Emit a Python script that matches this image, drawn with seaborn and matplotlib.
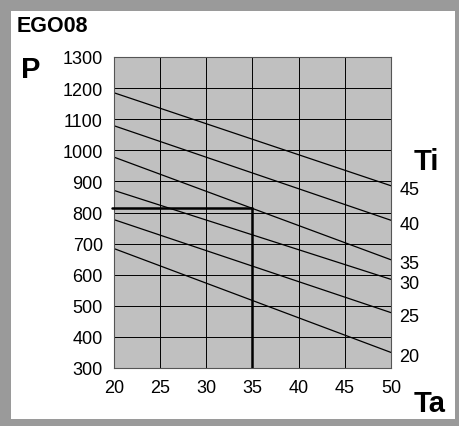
import matplotlib
matplotlib.use("Agg")
import matplotlib.pyplot as plt
import seaborn as sns
import pandas as pd
from matplotlib.patches import Rectangle

# Ti curves: power P at Ta = 20 and Ta = 50
ti_values = [20, 25, 30, 35, 40, 45]
p_at_ta20 = [684, 777, 871, 978, 1079, 1185]
p_at_ta50 = [350, 478, 585, 648, 775, 886]
ta_range = [20, 50]

# example reading point
marker_ta = 35
marker_p = 814

x_ticks = [20, 25, 30, 35, 40, 45, 50]
y_ticks = [300, 400, 500, 600, 700, 800, 900, 1000, 1100, 1200, 1300]

rows = []
for ti, p0, p1 in zip(ti_values, p_at_ta20, p_at_ta50):
    rows.append({"Ti": ti, "Ta": ta_range[0], "P": p0})
    rows.append({"Ti": ti, "Ta": ta_range[1], "P": p1})
df = pd.DataFrame(rows)

sns.set_style("white")
plt.rcParams["font.family"] = ["Liberation Sans", "DejaVu Sans"]
plt.rcParams["text.color"] = "black"
plt.rcParams["xtick.color"] = "black"
plt.rcParams["ytick.color"] = "black"
plt.rcParams["xtick.labelcolor"] = "black"
plt.rcParams["ytick.labelcolor"] = "black"

fig = plt.figure(figsize=(4.6, 4.27), dpi=100, facecolor="#9a9a9a")
# white inner panel
fig.patches.append(Rectangle((11 / 460, 1 - 420 / 427), 444 / 460, 408 / 427,
                             transform=fig.transFigure, facecolor="white",
                             edgecolor="none", zorder=-10))

ax = fig.add_axes([114 / 460, 1 - 369 / 427, 277 / 460, 311 / 427])
ax.set_facecolor("#c0c0c0")

sns.lineplot(data=df, x="Ta", y="P", units="Ti", estimator=None,
             color="black", linewidth=0.9, ax=ax)

# reading example
ax.plot([19.8, marker_ta], [marker_p, marker_p], color="black", linewidth=1.8,
        clip_on=False, zorder=5)
ax.plot([marker_ta, marker_ta], [marker_p, 300], color="black", linewidth=1.8,
        zorder=5)

ax.set_xlim(20, 50)
ax.set_ylim(300, 1300)
ax.set_xticks(x_ticks)
ax.set_yticks(y_ticks)
ax.grid(True, color="black", linewidth=0.7)
ax.set_axisbelow(True)
ax.tick_params(length=0, labelsize=13, pad=8)
ax.set_xlabel("")
ax.set_ylabel("")
for s in ax.spines.values():
    s.set_color("#555555")
    s.set_linewidth(0.8)

# Ti labels at the right end of each line
for ti, p1 in zip(ti_values, p_at_ta50):
    ax.annotate(str(ti), xy=(50, p1), xytext=(6, -3), textcoords="offset points",
                ha="left", va="center", fontsize=13, annotation_clip=False)

fig.text(17 / 460, 1 - 32 / 427, "EGO08", fontsize=15.5, fontweight="bold",
         va="baseline", ha="left")
fig.text(21 / 460, 1 - 78 / 427, "P", fontsize=21, fontweight="bold",
         va="baseline", ha="left")
fig.text(414 / 460, 1 - 170 / 427, "Ti", fontsize=21, fontweight="bold",
         va="baseline", ha="left")
fig.text(414 / 460, 1 - 412 / 427, "Ta", fontsize=21, fontweight="bold",
         va="baseline", ha="left")

fig.savefig("out.png", dpi=100, facecolor=fig.get_facecolor())
